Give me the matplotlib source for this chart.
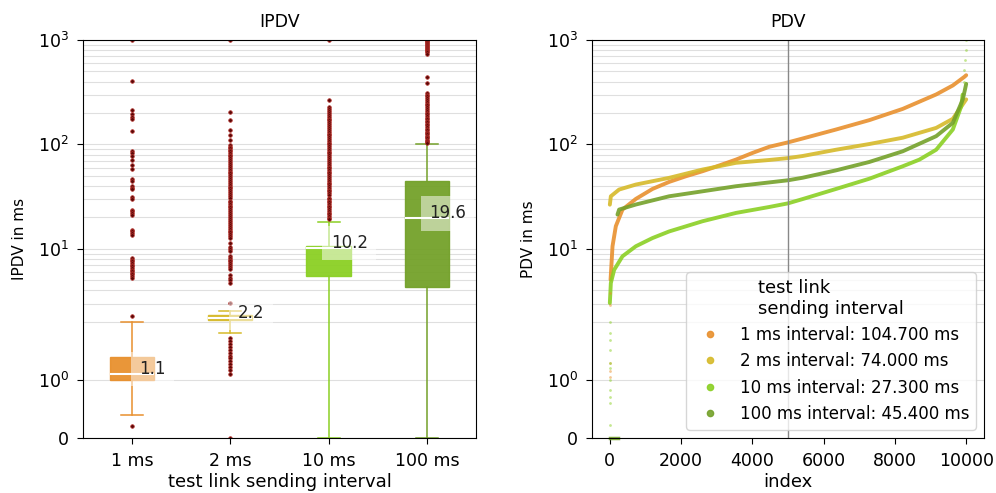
import math
import matplotlib
matplotlib.use("Agg")
import matplotlib.pyplot as plt
from matplotlib.ticker import FixedLocator, FuncFormatter, NullFormatter
from matplotlib.lines import Line2D

# ---- IPDV box statistics per test-link sending interval ----
intervals = ["1 ms", "2 ms", "10 ms", "100 ms"]
interval_colors = ["#E8902E", "#D6BA2A", "#8BD024", "#74A12A"]

ipdv_q1 = [1.0, 2.09, 5.46, 4.32]
ipdv_median = [1.1, 2.2, 10.2, 19.6]
ipdv_q3 = [1.4, 2.34, 10.6, 44.4]
ipdv_whislo = [0.39, 1.81, 0.0, 0.0]
ipdv_whishi = [1.99, 2.52, 17.9, 102.0]

ipdv_fliers_1ms = [1000, 403, 216, 194, 184, 176, 134, 86, 83, 78, 71, 64, 58,
                   47, 45, 40, 38.6, 37.5, 31.2, 30.1, 23.8, 22.9, 22.1, 21.3,
                   15.3, 14.7, 14.2, 13.7, 8.2, 7.9, 7.6, 7.3, 7.0, 6.8, 6.5,
                   6.3, 6.1, 5.9, 5.7, 5.5, 5.3, 2.29, 0.21]
ipdv_fliers_2ms = [1000, 204, 173, 139, 124, 111, 98, 95, 92, 89, 86, 83, 80,
                   77, 74, 71, 68, 65, 62, 60, 57, 55, 53, 51, 49, 47, 45, 43,
                   41, 39.5, 38, 36.5, 35, 33.5, 32, 30.5, 29, 28, 27, 26, 25,
                   24, 23, 22, 21, 20.2, 19.4, 18.6, 17.8, 17, 16.3, 15.6, 15,
                   14.4, 13.8, 13.2, 12.7, 11.5, 10.5, 10.0, 9.6, 8.5, 8.2,
                   7.9, 7.6, 7.3, 7.0, 6.7, 6.4, 5.6, 5.3, 5.0, 4.7, 3.05,
                   1.72, 1.67, 1.62, 1.57, 1.52, 1.47, 1.42, 1.37, 1.32, 1.27,
                   1.22, 1.17, 1.1, 0]
ipdv_fliers_10ms = [1000, 264, 230, 220, 210, 201, 193, 185, 177, 170, 163,
                    156, 150, 144, 138, 132, 127, 122, 117, 112, 108, 104,
                    100, 96, 92, 88, 85, 82, 79, 76, 73, 70, 67, 64, 61, 59,
                    57, 55, 53, 51, 49, 47, 45, 43, 41.5, 40, 38.5, 37, 35.5,
                    34, 32.5, 31, 30, 29, 28, 27, 26, 25, 24, 23, 22.2, 21.4,
                    20.6, 19.8, 19.2]
ipdv_fliers_100ms = [1000, 990, 975, 960, 940, 920, 900, 880, 860, 840, 820,
                     800, 780, 760, 740, 441, 390, 312, 300, 288, 276, 265,
                     255, 245, 236, 227, 218, 210, 202, 195, 188, 181, 175,
                     169, 163, 157, 152, 147, 142, 137, 133, 129, 125, 121,
                     117, 114, 111, 108, 105, 103]

# ---- sorted PDV samples per interval ----
pdv_1ms_idx = [20, 75, 168, 355, 730, 1197, 1666, 2135, 2601, 2882, 3539,
               4006, 4475, 5000, 5410, 6348, 7284, 8219, 9157, 9624, 9952,
               9999]
pdv_1ms_val = [5.07, 10.6, 16.5, 23.8, 30.1, 37.5, 43.8, 49.6, 55.4, 59.7,
               71.6, 83, 95, 104.7, 114, 139, 171, 219, 301, 367, 445, 460]
pdv_1ms_tail_idx = [0, 3, 6, 10, 14]
pdv_1ms_tail_val = [1.05, 1.15, 1.3, 2.9, 3.8]

pdv_2ms_idx = [0, 28, 260, 730, 1666, 2601, 3539, 4475, 5000, 5410, 6348,
               7284, 8219, 9157, 9624, 9999]
pdv_2ms_val = [26.5, 31.9, 37, 41.3, 47.9, 57.5, 66.7, 71, 74.0, 77.5, 89,
               101, 116, 144, 176, 270]

pdv_10ms_idx = [0, 28, 121, 355, 730, 1197, 1666, 2601, 3539, 4475, 5000,
                5410, 6348, 7284, 8219, 8688, 9157, 9624, 9860, 9900]
pdv_10ms_val = [3.03, 4.71, 6.3, 8.5, 10.6, 12.7, 14.7, 18.4, 22.1, 25.2,
                27.3, 30.0, 37.5, 47.0, 61.8, 71.6, 89, 139, 232, 300]
pdv_10ms_tail_idx = [0, 1, 2, 3, 4, 5, 6, 7, 8, 9, 10, 9930, 9950, 9965,
                     9980, 9999]
pdv_10ms_tail_val = [0.22, 0.6, 0.71, 0.83, 1.0, 1.21, 1.29, 1.52, 1.69,
                     1.81, 1.99, 400, 520, 650, 800, 1000]

pdv_100ms_idx = [214, 261, 730, 1666, 2601, 3539, 4475, 5000, 5410, 6348,
                 7284, 8219, 9157, 9624, 9905, 9999]
pdv_100ms_val = [21.3, 23.8, 26.6, 31.9, 35.6, 39.8, 43.3, 45.4, 48, 56.5,
                 68, 86, 120, 161, 270, 380]
pdv_100ms_zero_idx = [0, 230]
pdv_100ms_zero_val = [0, 0]

pdv_medians = [104.7, 74.0, 27.3, 45.4]

plt.rcParams["font.family"] = ["DejaVu Sans"]
fig = plt.figure(figsize=(9.96, 4.93), dpi=100)
ax1 = fig.add_axes([0.0833, 0.1116, 0.3946, 0.8073])
ax2 = fig.add_axes([0.5944, 0.1116, 0.3936, 0.8073])


def decade_label(v, _pos):
    if v == 0:
        return "0"
    return r"$\mathdefault{10^{%d}}$" % int(round(math.log10(v)))


major_ticks = [0, 1, 10, 100, 1000]
minor_ticks = [m * d for d in (1, 10, 100) for m in range(2, 10)]

for ax in (ax1, ax2):
    ax.set_yscale("symlog", linthresh=2, linscale=1)
    ax.set_ylim(0, 1000)
    ax.yaxis.set_major_locator(FixedLocator(major_ticks))
    ax.yaxis.set_minor_locator(FixedLocator(minor_ticks))
    ax.yaxis.set_major_formatter(FuncFormatter(decade_label))
    ax.yaxis.set_minor_formatter(NullFormatter())
    ax.tick_params(axis="y", which="minor", length=0)
    ax.tick_params(which="major", labelsize=12.5, pad=5.5, length=4.5)
    ax.grid(True, axis="y", which="both", color="#b0b0b0", alpha=0.4, lw=0.8)

# ---- left: IPDV boxplots ----
fliers = [ipdv_fliers_1ms, ipdv_fliers_2ms, ipdv_fliers_10ms, ipdv_fliers_100ms]
stats = []
for i, name in enumerate(intervals):
    stats.append(dict(label=name, q1=ipdv_q1[i], med=ipdv_median[i],
                      q3=ipdv_q3[i], whislo=ipdv_whislo[i],
                      whishi=ipdv_whishi[i], fliers=fliers[i]))
positions = [1, 2, 3, 4]
bp = ax1.bxp(stats, positions=positions, widths=0.45, patch_artist=True,
             medianprops=dict(color="white", lw=1.5),
             flierprops=dict(marker="o", markersize=2.6,
                             markerfacecolor="#5a0808",
                             markeredgecolor="#b8302a",
                             markeredgewidth=0.5, linestyle="none"))
for i, c in enumerate(interval_colors):
    bp["boxes"][i].set(facecolor=c, edgecolor=c, alpha=0.95)
    for ln in bp["whiskers"][2 * i:2 * i + 2] + bp["caps"][2 * i:2 * i + 2]:
        ln.set(color=c, lw=1.1)
    ax1.text(positions[i] + 0.21, ipdv_median[i], f"{ipdv_median[i]:.1f}",
             ha="center", va="baseline", fontsize=12, color="#222222",
             bbox=dict(facecolor="white", alpha=0.5, edgecolor="none", pad=6))

ax1.set_title("IPDV", fontsize=12.5, pad=9)
ax1.set_ylabel("IPDV in ms", fontsize=11, labelpad=8)
ax1.set_xlabel("test link sending interval", fontsize=13, labelpad=2)

# ---- right: sorted PDV curves ----
curves = [
    (pdv_1ms_idx, pdv_1ms_val),
    (pdv_2ms_idx, pdv_2ms_val),
    (pdv_10ms_idx, pdv_10ms_val),
    (pdv_100ms_idx, pdv_100ms_val),
]
for (xs, ys), c in zip(curves, interval_colors):
    ax2.plot(xs, ys, "-", color=c, lw=2.8, alpha=0.9,
             solid_capstyle="round", solid_joinstyle="round")
ax2.plot(pdv_1ms_tail_idx, pdv_1ms_tail_val, "o", ms=2, color=interval_colors[0],
         alpha=0.5, mew=0)
ax2.plot(pdv_10ms_tail_idx, pdv_10ms_tail_val, "o", ms=2,
         color=interval_colors[2], alpha=0.5, mew=0)
ax2.plot(pdv_100ms_zero_idx, pdv_100ms_zero_val, "-", color=interval_colors[3],
         lw=2.5, alpha=0.9, clip_on=False)

ax2.axvline(5000, color="#888888", lw=1)
ax2.set_xlim(-500, 10500)
ax2.set_title("PDV", fontsize=12.5, pad=9)
ax2.set_ylabel("PDV in ms", fontsize=11, labelpad=8)
ax2.set_xlabel("index", fontsize=13, labelpad=2)

handles = [Line2D([], [], marker="o", linestyle="none", color=c,
                  markersize=4.5, alpha=0.9) for c in interval_colors]
labels = [f"{name} interval: {m:.3f} ms" for name, m in zip(intervals, pdv_medians)]
ax2.legend(handles, labels, loc="lower right", title="test link\nsending interval",
           fontsize=12, title_fontsize=13, framealpha=0.8)

fig.savefig("out.png", dpi=100)
